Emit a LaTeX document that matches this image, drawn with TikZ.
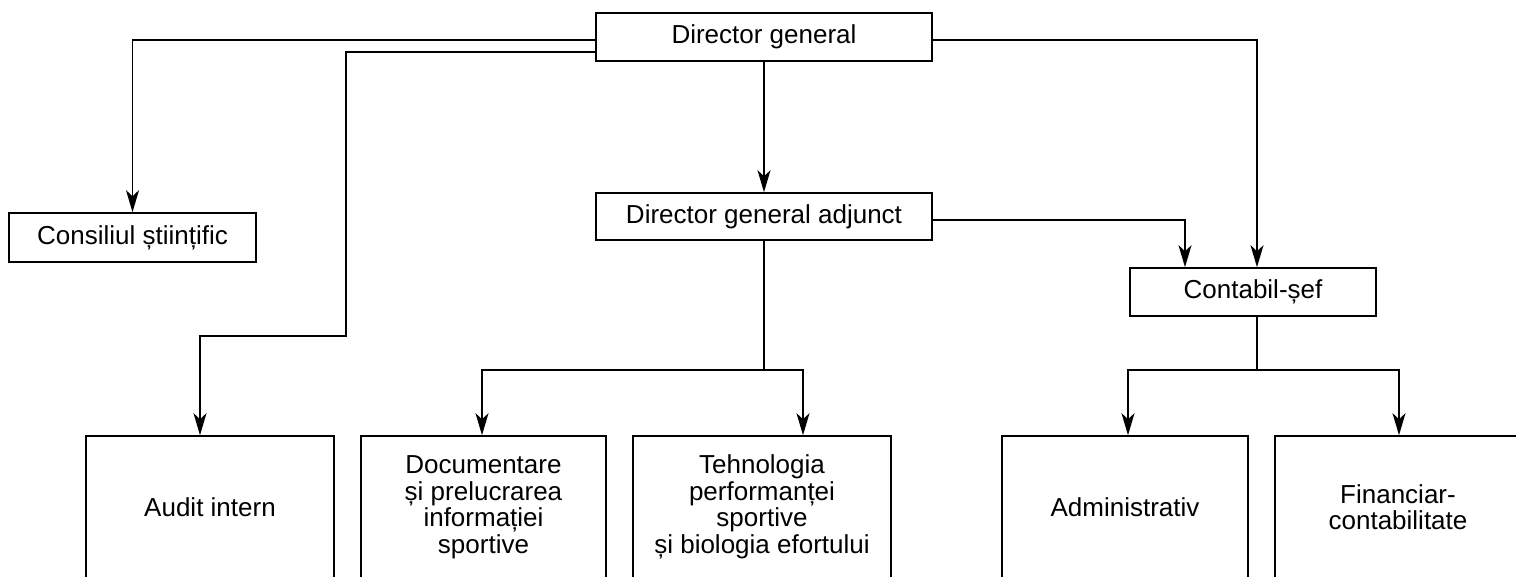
\documentclass[tikz,border=0pt]{standalone}
\usepackage{fontspec}
\setmainfont{Liberation Sans}
\usetikzlibrary{arrows.meta}
\tikzset{
  box/.style={draw, line width=1.6pt, inner sep=0pt, align=center, font=\fontsize{26}{26.5}\selectfont},
  conn/.style={line width=1.6pt},
  arr/.style={line width=1.6pt, -{Stealth[length=22pt,width=13pt,inset=6pt]}}
}
\begin{document}
\begin{tikzpicture}[x=1pt,y=-1pt]
\useasboundingbox (0,0) rectangle (1516,576);
\clip (0,0) rectangle (1516,576);
% nodes
\node[box, minimum width=336pt, minimum height=48pt] (dg) at (764,37) {Director general};
\node[box, minimum width=247pt, minimum height=49pt] (cs) at (132.5,237.5) {Consiliul științific};
\node[box, minimum width=336pt, minimum height=47pt] (dga) at (764,216.5) {Director general adjunct};
\node[box, minimum width=246pt, minimum height=48pt] (ce) at (1253,292) {Contabil-șef};
\node[box, minimum width=248pt, minimum height=142pt] (audit) at (210,507) {Audit intern};
\node[box, minimum width=245pt, minimum height=142pt] (doc) at (483.5,507) {Documentare\\și prelucrarea\\informației\\sportive};
\node[box, minimum width=258pt, minimum height=142pt] (tech) at (762,507) {Tehnologia\\performanței\\sportive\\și biologia efortului};
\node[box, minimum width=246pt, minimum height=142pt] (adm) at (1125,507) {Administrativ};
\node[box, minimum width=246pt, minimum height=142pt] (fin) at (1398,507) {Financiar-\\contabilitate};
% junction coordinates
\coordinate (k1) at (346,336);
\coordinate (j1) at (764,370);
\coordinate (j2) at (1257,370);
% connectors
\draw[arr] ([yshift=-3pt]dg.west) -| (cs.north);
\draw[arr] ([yshift=-15pt]dg.west) -| (k1) -| ([xshift=-10pt]audit.north);
\draw[arr] ([yshift=-3pt]dg.east) -| ([xshift=4pt]ce.north);
\draw[arr] (dg.south) -- (dga.north);
\draw[arr] ([yshift=-3.5pt]dga.east) -| ([xshift=-68pt]ce.north);
\draw[conn] (dga.south) -- (j1);
\draw[arr] (j1) -| ([xshift=-1.5pt]doc.north);
\draw[arr] (j1) -| ([xshift=41pt]tech.north);
\draw[conn] ([xshift=4pt]ce.south) -- (j2);
\draw[arr] (j2) -| ([xshift=3pt]adm.north);
\draw[arr] (j2) -| ([xshift=1pt]fin.north);
\end{tikzpicture}
\end{document}
